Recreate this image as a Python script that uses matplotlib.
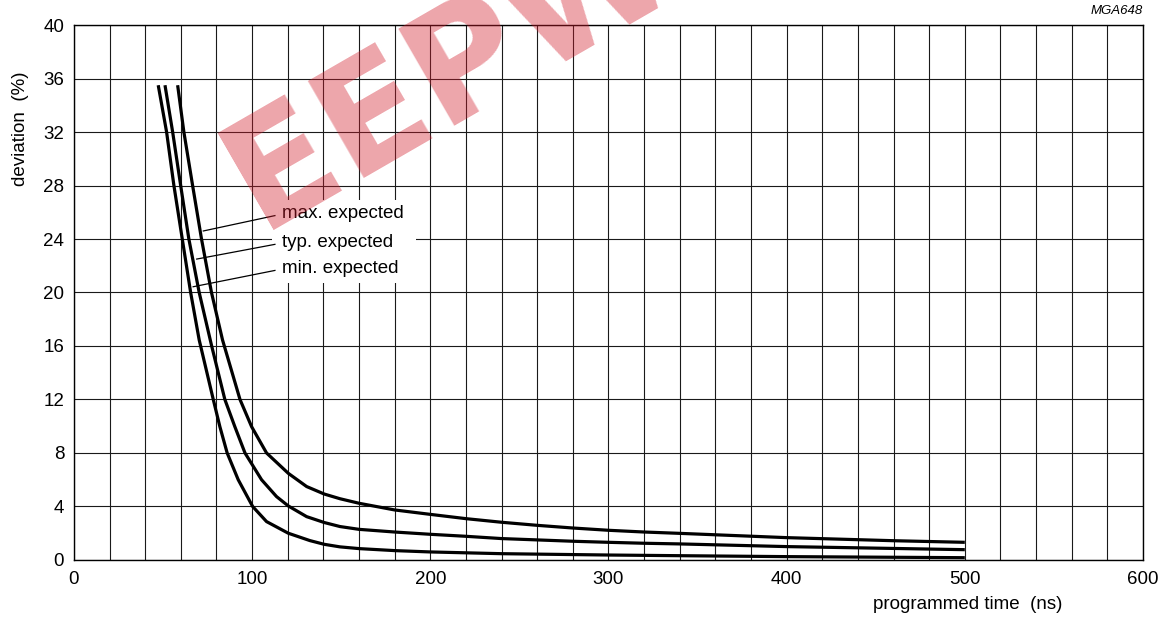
import numpy as np
import matplotlib
matplotlib.use("Agg")
import matplotlib.pyplot as plt
from matplotlib.patches import Rectangle

plt.rcParams['font.family'] = ['Liberation Sans', 'DejaVu Sans']

# curves (ns, %)
min_x = [47.3, 52.0, 56.1, 60.8, 65.5, 70.3, 78.2, 81.9, 86.0, 92.2, 100.3, 108.1,
         120.3, 132.4, 140.5, 149.3, 160, 180, 200, 240, 300, 340, 400, 500]
min_y = [35.5, 32, 28, 24, 20, 16.45, 12, 9.97, 8, 6.0, 4.0, 2.87,
         2.0, 1.45, 1.17, 0.98, 0.85, 0.7, 0.6, 0.47, 0.37, 0.32, 0.25, 0.17]

typ_x = [51.1, 55.4, 59.9, 64.5, 70.3, 77.3, 84.7, 90.3, 96.0, 105.3, 113.7, 120.3, 130.6,
         140.5, 149.3, 160, 180, 200, 220, 240, 260, 280, 300, 320, 340, 400, 500]
typ_y = [35.5, 32, 28, 24, 20, 16, 12, 9.97, 8, 6.0, 4.74, 4.04, 3.24,
         2.8, 2.5, 2.29, 2.09, 1.92, 1.77, 1.6, 1.5, 1.4, 1.32, 1.25, 1.2, 1.0, 0.77]

max_x = [58.2, 61.7, 66.6, 71.6, 77.2, 83.4, 93.2, 99.7, 108.1, 120.3, 130.6, 140.5, 149.3,
         160, 180, 200, 220, 240, 260, 280, 300, 320, 340, 400, 460, 500]
max_y = [35.5, 32, 28, 24, 20, 16.45, 12, 9.97, 8, 6.48, 5.49, 4.93, 4.58,
         4.24, 3.74, 3.41, 3.09, 2.82, 2.59, 2.39, 2.22, 2.09, 1.99, 1.67, 1.44, 1.32]

labels = ["max. expected", "typ. expected", "min. expected"]
label_y = [25.9, 23.75, 21.8]
leader_start = [(72.6, 24.6), (68.9, 22.5), (66.9, 20.43)]
xticks = np.arange(0, 601, 100)
yticks = np.arange(0, 41, 4)

fig = plt.figure(figsize=(11.7, 6.18), dpi=100)
ax = fig.add_axes([0.0632, 0.0939, 0.9137, 0.8656])

ax.set_xlim(0, 600)
ax.set_ylim(0, 40)
ax.set_xticks(np.arange(0, 601, 20), minor=True)
ax.set_xticks(xticks)
ax.set_yticks(yticks)
ax.grid(True, which='both', axis='x', color='#1a1a1a', lw=0.8)
ax.grid(True, which='major', axis='y', color='#1a1a1a', lw=0.8)
ax.set_axisbelow(True)
ax.tick_params(which='both', length=0, labelsize=13.5, colors='black')
ax.tick_params(axis='y', pad=7)
ax.tick_params(axis='x', pad=8)
for s in ax.spines.values():
    s.set_color('black')
    s.set_linewidth(1.0)

for xs, ys in [(min_x, min_y), (typ_x, typ_y), (max_x, max_y)]:
    ax.plot(xs, ys, color='black', lw=2.3, zorder=3, solid_capstyle='butt',
            solid_joinstyle='round')

# white box behind the curve labels
ax.add_patch(Rectangle((111, 20.7), 81, 6.2, facecolor='white', edgecolor='none', zorder=1.5))
for lab, ly, (sx, sy) in zip(labels, label_y, leader_start):
    ax.plot([sx, 112.8], [sy, ly - 0.15], color='black', lw=0.9, zorder=3)
    ax.text(116.6, ly, lab, fontsize=13.5, va='center', ha='left', zorder=4)

ax.text(0.836, -0.067, "programmed time  (ns)", transform=ax.transAxes,
        ha='center', va='top', fontsize=13.5)
ax.text(-0.05, 0.807, "deviation  (%)", transform=ax.transAxes,
        ha='center', va='center', rotation=90, fontsize=13.5)
fig.text(0.977, 0.982, "MGA648", ha='right', va='center', fontsize=9.5, style='italic')

# watermark
fig.text(0.385, 0.885, "EEPW", ha='center', va='center', rotation=30, fontsize=110,
         fontweight='heavy', family='DejaVu Sans', color='#d21e2d', alpha=0.4, zorder=10)

fig.savefig("out.png", dpi=100)
